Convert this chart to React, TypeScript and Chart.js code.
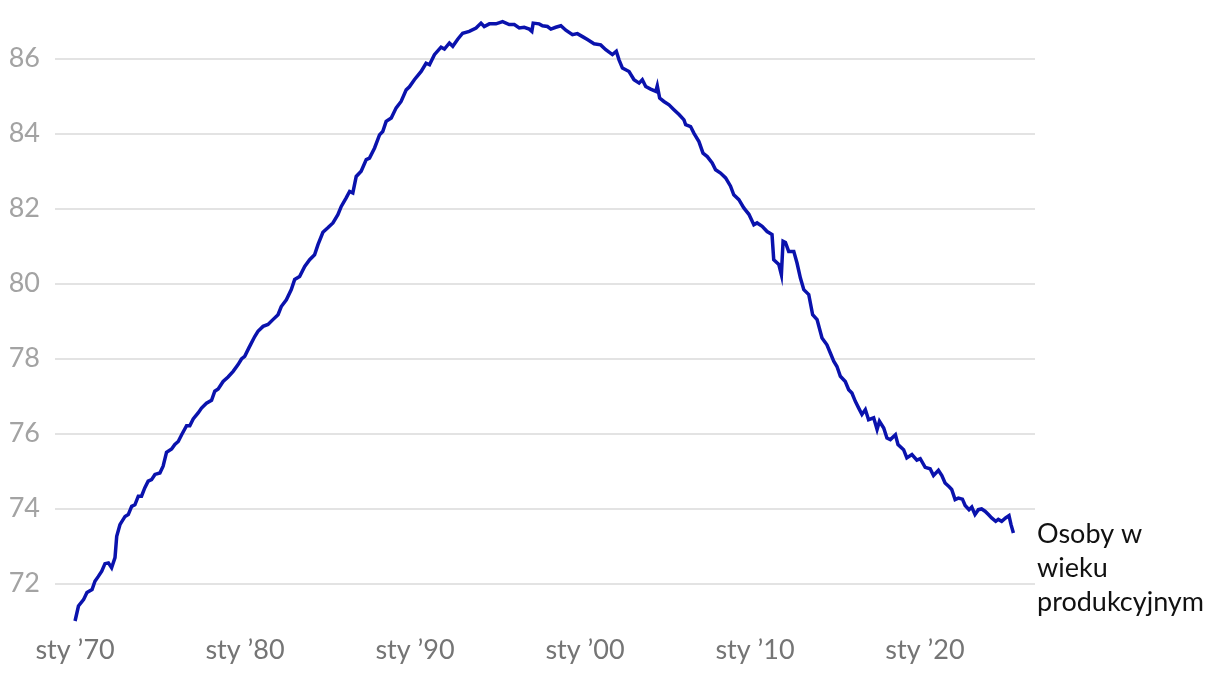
import React, { useEffect, useRef } from "react";
import { Chart, registerables } from "chart.js";

Chart.register(...registerables);

// Decimal years (Jan 1970 = 1970.0) and values
const dates: number[] = [
  1970.0, 1970.2, 1970.5, 1970.7, 1971.0, 1971.17, 1971.37, 1971.57, 1971.76, 1971.96,
  1972.15, 1972.35, 1972.45, 1972.64, 1972.94, 1973.13, 1973.33, 1973.52, 1973.72, 1973.91,
  1974.1, 1974.3, 1974.5, 1974.7, 1974.99, 1975.18, 1975.38, 1975.68, 1975.87, 1976.07,
  1976.27, 1976.56, 1976.75, 1976.95, 1977.24, 1977.44, 1977.73, 1978.03, 1978.22, 1978.42,
  1978.71, 1979.0, 1979.3, 1979.59, 1979.79, 1979.98, 1980.24, 1980.57, 1980.76, 1981.06,
  1981.35, 1981.64, 1981.94, 1982.13, 1982.43, 1982.72, 1982.92, 1983.21, 1983.51, 1983.8,
  1984.09, 1984.29, 1984.58, 1984.87, 1985.17, 1985.46, 1985.66, 1985.95, 1986.15, 1986.34,
  1986.54, 1986.83, 1987.13, 1987.32, 1987.62, 1987.91, 1988.1, 1988.3, 1988.6, 1988.89,
  1989.18, 1989.48, 1989.67, 1989.96, 1990.36, 1990.65, 1990.85, 1991.14, 1991.53, 1991.73,
  1992.02, 1992.22, 1992.51, 1992.8, 1993.19, 1993.59, 1993.88, 1994.07, 1994.37, 1994.76,
  1995.15, 1995.54, 1995.84, 1996.13, 1996.42, 1996.72, 1996.87, 1996.95, 1997.3, 1997.5,
  1997.79, 1997.99, 1998.28, 1998.58, 1998.87, 1999.26, 1999.55, 1999.85, 2000.14, 2000.53,
  2000.92, 2001.22, 2001.61, 2001.84, 2002.0, 2002.2, 2002.59, 2002.88, 2003.18, 2003.37,
  2003.57, 2003.86, 2004.16, 2004.25, 2004.39, 2004.64, 2004.94, 2005.23, 2005.53, 2005.82,
  2005.92, 2006.21, 2006.41, 2006.7, 2006.94, 2007.19, 2007.48, 2007.68, 2007.97, 2008.27,
  2008.56, 2008.75, 2009.05, 2009.34, 2009.64, 2009.93, 2010.12, 2010.42, 2010.71, 2011.0,
  2011.1, 2011.4, 2011.55, 2011.65, 2011.79, 2011.98, 2012.28, 2012.47, 2012.67, 2012.87,
  2013.16, 2013.39, 2013.65, 2013.94, 2014.23, 2014.43, 2014.63, 2014.82, 2015.02, 2015.31,
  2015.51, 2015.7, 2015.9, 2016.1, 2016.29, 2016.49, 2016.68, 2016.98, 2017.18, 2017.32,
  2017.57, 2017.76, 2017.96, 2018.26, 2018.41, 2018.74, 2018.93, 2019.23, 2019.52, 2019.72,
  2020.01, 2020.3, 2020.5, 2020.79, 2020.99, 2021.18, 2021.42, 2021.57, 2021.77, 2021.96,
  2022.2, 2022.36, 2022.59, 2022.75, 2022.94, 2023.14, 2023.33, 2023.53, 2023.73, 2023.92,
  2024.16, 2024.31, 2024.51, 2024.74, 2024.94, 2025.06, 2025.2,
];

const values: number[] = [
  71.0, 71.4, 71.57, 71.76, 71.84, 72.06, 72.19, 72.33, 72.53, 72.55,
  72.42, 72.69, 73.26, 73.57, 73.79, 73.84, 74.06, 74.1, 74.33, 74.33,
  74.55, 74.73, 74.77, 74.91, 74.95, 75.13, 75.5, 75.59, 75.71, 75.79,
  75.97, 76.21, 76.21, 76.39, 76.55, 76.68, 76.81, 76.89, 77.13, 77.19,
  77.39, 77.51, 77.66, 77.84, 77.99, 78.06, 78.3, 78.59, 78.73, 78.86,
  78.91, 79.04, 79.17, 79.39, 79.57, 79.84, 80.11, 80.19, 80.46, 80.64,
  80.77, 81.04, 81.37, 81.49, 81.62, 81.84, 82.06, 82.29, 82.46, 82.42,
  82.86, 83.0, 83.31, 83.35, 83.62, 83.97, 84.06, 84.33, 84.42, 84.69,
  84.86, 85.17, 85.25, 85.44, 85.66, 85.88, 85.84, 86.11, 86.31, 86.26,
  86.42, 86.33, 86.52, 86.68, 86.73, 86.82, 86.95, 86.86, 86.93, 86.93,
  86.99, 86.91, 86.91, 86.82, 86.84, 86.79, 86.73, 86.95, 86.93, 86.88,
  86.86, 86.79, 86.84, 86.88, 86.76, 86.64, 86.67, 86.59, 86.51, 86.4,
  86.37, 86.24, 86.11, 86.2, 85.97, 85.75, 85.66, 85.44, 85.35, 85.44,
  85.26, 85.19, 85.13, 85.28, 84.95, 84.86, 84.77, 84.64, 84.51, 84.37,
  84.24, 84.19, 84.01, 83.79, 83.48, 83.39, 83.22, 83.04, 82.95, 82.82,
  82.6, 82.37, 82.24, 82.02, 81.85, 81.57, 81.62, 81.53, 81.39, 81.31,
  80.64, 80.51, 80.24, 81.13, 81.1, 80.86, 80.86, 80.55, 80.15, 79.84,
  79.71, 79.17, 79.04, 78.55, 78.37, 78.15, 77.93, 77.79, 77.53, 77.39,
  77.17, 77.08, 76.86, 76.68, 76.51, 76.64, 76.37, 76.42, 76.11, 76.33,
  76.15, 75.88, 75.84, 75.97, 75.71, 75.57, 75.35, 75.44, 75.29, 75.33,
  75.1, 75.06, 74.88, 75.02, 74.88, 74.68, 74.58, 74.51, 74.24, 74.28,
  74.25, 74.08, 73.97, 74.04, 73.84, 73.97, 73.99, 73.93, 73.84, 73.75,
  73.66, 73.71, 73.66, 73.75, 73.81, 73.57, 73.35,
];

const seriesLabel: string[] = ["Osoby w", "wieku", "produkcyjnym"];
const xTickYears: number[] = [1970, 1980, 1990, 2000, 2010, 2020];
const xTickLabels: string[] = ["sty \u201970", "sty \u201980", "sty \u201990", "sty \u201900", "sty \u201910", "sty \u201920"];
const yTicks: number[] = [72, 74, 76, 78, 80, 82, 84, 86];

const FONT = "Lato, 'Noto Sans', sans-serif";

const endLabelPlugin = {
  id: "endLabel",
  afterDatasetsDraw(chart: any) {
    const meta = chart.getDatasetMeta(0);
    const last = meta.data[meta.data.length - 1];
    if (!last) return;
    const ctx = chart.ctx;
    ctx.save();
    ctx.font = `27px ${FONT}`;
    ctx.fillStyle = "#111111";
    ctx.textAlign = "left";
    ctx.textBaseline = "alphabetic";
    const x = chart.chartArea.right + 2;
    let y = last.y + 10;
    for (const line of seriesLabel) {
      ctx.fillText(line, x, y);
      y += 34;
    }
    ctx.restore();
  },
};

export default function App() {
  const ref = useRef<HTMLCanvasElement | null>(null);
  useEffect(() => {
    if (!ref.current) return;
    const chart = new Chart(ref.current, {
      type: "line",
      data: {
        datasets: [
          {
            data: dates.map((d, i) => ({ x: d, y: values[i] })),
            borderColor: "#0a12ad",
            borderWidth: 3.5,
            pointRadius: 0,
            tension: 0,
            fill: false,
            clip: 6,
          },
        ],
      },
      options: {
        animation: false,
        responsive: true,
        maintainAspectRatio: false,
        layout: { padding: { top: 14, right: 177, bottom: 0, left: 0 } },
        plugins: { legend: { display: false }, tooltip: { enabled: false } },
        scales: {
          x: {
            type: "linear",
            min: 1968.82,
            max: 2026.47,
            afterBuildTicks: (scale: any) => {
              scale.ticks = xTickYears.map((v) => ({ value: v }));
            },
            afterFit: (scale: any) => {
              scale.height = 49;
            },
            grid: { display: false },
            border: { display: false },
            ticks: {
              autoSkip: false,
              maxRotation: 0,
              padding: 5,
              color: "#757575",
              font: { family: FONT, size: 27 },
              callback: (value: any) => {
                const idx = xTickYears.indexOf(Number(value));
                return idx >= 0 ? xTickLabels[idx] : "";
              },
            },
          },
          y: {
            min: 71,
            max: 86.98,
            afterBuildTicks: (scale: any) => {
              scale.ticks = yTicks.map((v) => ({ value: v }));
            },
            afterFit: (scale: any) => {
              scale.width = 47;
              scale.paddingTop = 0;
              scale.paddingBottom = 0;
            },
            grid: { color: "#e3e3e3", lineWidth: 2, drawTicks: false },
            border: { display: false },
            ticks: {
              padding: 15,
              color: "#a3a3a3",
              font: { family: FONT, size: 27 },
            },
          },
        },
      },
      plugins: [endLabelPlugin],
    });
    return () => chart.destroy();
  }, []);
  return (
    <div style={{ position: "relative", width: 1204, height: 662 }}>
      <canvas ref={ref} />
    </div>
  );
}
